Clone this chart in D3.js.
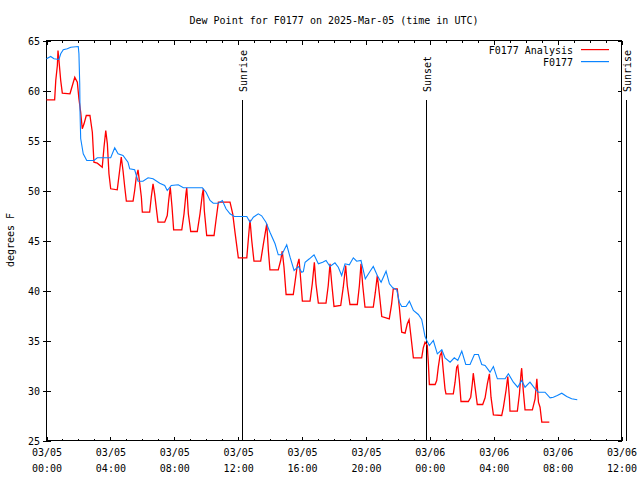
<!DOCTYPE html>
<html><head><meta charset="utf-8">
<script src="https://cdn.jsdelivr.net/npm/d3@7"></script>
<style>
body{margin:0;background:#fff}
text{font-family:"DejaVu Sans Mono",monospace;font-size:10px;fill:#000}
</style>
</head><body>
<svg id="c" width="640" height="480"></svg>
<script>
// ---- data (hours since 2025-03-05 00:00 UTC, dew point in F) ----
const obsHours=[0.00,0.26,0.47,0.78,0.89,1.05,1.30,1.52,1.99,2.03,2.08,2.10,2.14,2.30,2.52,2.97,3.18,4.02,4.27,4.48,4.79,5.10,5.21,5.52,5.73,6.04,6.36,6.67,7.09,7.40,7.56,7.81,8.25,8.57,9.76,9.99,10.24,10.44,10.76,11.01,11.24,11.49,11.76,12.54,12.74,12.95,13.26,13.47,13.74,13.99,14.31,14.51,14.73,15.04,15.25,15.50,15.77,15.98,16.08,16.19,16.46,16.75,17.02,17.29,17.50,17.75,18.06,18.27,18.48,18.69,18.96,19.21,19.42,19.69,19.96,20.26,20.46,20.71,20.95,21.26,21.47,21.68,21.93,22.09,22.24,22.51,22.72,22.97,23.28,23.49,23.70,23.81,23.97,24.22,24.47,24.75,24.95,25.27,25.53,25.75,26.00,26.25,26.52,26.79,27.04,27.25,27.46,27.77,27.98,28.23,28.71,28.92,29.23,29.50,29.75,29.96,30.27,30.59,30.79,31.21,31.53,31.73,31.98,32.26,32.57,32.88,33.23];
const obsDew=[63.17,63.4,63.17,63.1,63.67,64.07,64.17,64.33,64.4,63.67,60.67,57.8,55.2,53.67,53.0,53.0,53.27,53.27,54.27,53.67,53.5,52.83,52.17,52.07,50.93,50.93,51.27,51.17,50.73,50.5,50.0,50.5,50.57,50.27,50.27,49.83,49.0,48.73,48.73,49.0,48.17,47.67,47.4,47.4,46.83,47.33,47.67,47.47,46.83,45.83,44.67,43.57,43.57,44.57,43.33,42.0,42.4,41.83,41.9,42.83,43.17,43.57,42.67,42.83,43.0,42.4,42.77,42.33,41.5,42.67,42.57,43.27,42.93,43.0,41.17,41.93,42.4,41.5,40.83,41.93,40.67,40.27,40.07,38.83,38.4,38.4,38.93,38.0,37.6,37.1,35.4,35.0,34.5,35.0,33.67,34.07,33.27,32.83,33.27,33.0,33.93,32.6,32.6,33.6,33.6,32.6,32.5,31.83,32.4,31.17,31.17,31.67,30.83,30.33,31.0,30.33,30.83,30.17,29.83,29.83,29.27,29.33,29.5,29.73,29.4,29.17,29.07];
const anaHours=[0.00,0.51,0.58,0.68,0.72,0.78,0.89,0.99,1.47,1.62,1.77,1.93,2.03,2.14,2.24,2.35,2.49,2.72,2.87,2.97,3.18,3.49,3.60,3.71,3.81,3.91,4.02,4.43,4.58,4.68,4.79,4.90,5.00,5.42,5.52,5.62,5.73,5.84,5.94,6.00,6.46,6.56,6.67,6.77,6.88,6.98,7.40,7.56,7.65,7.75,7.86,7.96,8.47,8.61,8.73,8.78,8.88,9.03,9.44,9.61,9.76,9.82,9.88,10.03,10.49,10.61,10.76,11.49,11.66,11.80,12.01,12.54,12.64,12.74,12.85,12.99,13.41,13.58,13.79,13.89,13.99,14.51,14.66,14.76,14.87,15.00,15.45,15.56,15.70,15.81,15.92,16.02,16.50,16.64,16.77,16.87,17.02,17.50,17.64,17.75,17.86,18.00,18.42,18.58,18.73,18.83,19.00,19.46,19.59,19.69,19.80,19.94,20.46,20.59,20.71,20.84,20.99,21.46,21.61,21.71,21.96,22.09,22.24,22.45,22.59,22.70,22.80,22.97,23.49,23.59,23.70,23.84,23.91,23.97,24.33,24.43,24.53,24.64,24.74,24.84,24.95,25.01,25.47,25.58,25.68,25.75,25.85,25.95,26.41,26.56,26.66,26.72,26.83,26.97,27.31,27.46,27.60,27.73,27.83,27.98,28.50,28.60,28.77,28.88,28.98,29.02,29.48,29.61,29.71,29.75,29.85,29.96,30.42,30.59,30.70,30.80,30.90,31.01,31.48];
const anaDew=[59.07,59.07,61.0,62.5,64.0,63.0,61.0,59.73,59.67,60.5,61.33,60.83,59.17,57.83,56.17,56.67,57.5,57.5,55.83,52.83,52.73,52.33,54.33,56.0,54.67,51.67,50.17,50.07,52.0,53.33,52.0,50.33,48.93,48.93,50.0,51.33,52.07,50.67,49.33,47.83,47.83,49.33,50.67,49.67,48.17,46.83,46.83,47.5,49.0,50.33,48.33,46.07,46.07,47.67,49.67,50.27,47.67,45.9,45.9,47.67,49.67,50.17,48.0,45.5,45.5,47.0,48.83,48.83,47.67,45.83,43.27,43.27,45.17,47.07,45.0,42.93,42.93,44.67,46.67,44.0,42.07,42.07,43.0,43.93,42.33,39.6,39.6,40.83,42.5,43.17,41.0,38.93,38.93,40.67,42.83,40.67,38.73,38.73,40.5,42.67,40.67,38.4,38.5,40.33,42.5,40.5,38.6,38.6,40.5,42.67,40.5,38.33,38.33,39.83,41.5,39.67,37.4,37.17,38.67,40.17,40.17,38.33,35.83,35.73,36.67,37.07,35.67,33.27,33.27,34.27,34.83,34.5,32.67,30.6,30.6,31.0,32.33,33.5,33.83,32.0,30.17,29.67,29.67,30.83,32.33,32.5,31.0,28.9,28.9,29.33,30.67,31.73,30.33,28.6,28.6,29.27,30.67,31.67,29.33,27.57,27.5,28.27,30.0,31.4,29.33,27.93,27.93,29.67,31.73,32.23,30.0,28.07,28.07,29.17,31.17,28.83,28.33,26.83,26.83];
const markerHours=[12.29,23.82,36.3];
const markerLabels=["Sunrise","Sunset","Sunrise"];
const yTicks=[25,30,35,40,45,50,55,60,65];
const seriesNames=["F0177 Analysis","F0177"];
const seriesColors=["#ff0000","#0a84ff"];
const titleText="Dew Point for F0177 on 2025-Mar-05 (time in UTC)";
const yTitle="degrees F";

const t0=Date.UTC(2025,2,5);
const toDate=h=>new Date(t0+h*3600000);
const L=46.5,R=621.5,T=40.5,B=440.5;
const x=d3.scaleUtc().domain([toDate(0),toDate(36)]).range([L,R]);
const y=d3.scaleLinear().domain([25,65]).range([B,T]);
const svg=d3.select("#c");
const snap=v=>Math.floor(v)+0.5;

// title
svg.append("text").attr("x",(L+R)/2).attr("y",20).attr("text-anchor","middle")
  .attr("dominant-baseline","central").text(titleText);
// y title
svg.append("text").attr("transform","translate(10,240) rotate(-90)").attr("text-anchor","middle")
  .attr("dominant-baseline","central").text(yTitle);

const g=svg.append("g").attr("shape-rendering","crispEdges");

// minor x ticks (hourly) bottom & top
const hourly=d3.utcHour.every(1);
g.append("g").attr("transform",`translate(0,${B})`)
  .call(d3.axisBottom(x).ticks(hourly).tickSize(-2).tickSizeOuter(0).tickFormat(""))
  .call(a=>a.select(".domain").remove());
g.append("g").attr("transform",`translate(0,${T})`)
  .call(d3.axisTop(x).ticks(hourly).tickSize(-2).tickSizeOuter(0).tickFormat(""))
  .call(a=>a.select(".domain").remove());
// major x ticks every 4h
const four=d3.utcHour.every(4);
const bx=g.append("g").attr("transform",`translate(0,${B})`)
  .call(d3.axisBottom(x).ticks(four).tickSize(-4).tickSizeOuter(0).tickFormat(""))
  .call(a=>a.select(".domain").remove());
g.append("g").attr("transform",`translate(0,${T})`)
  .call(d3.axisTop(x).ticks(four).tickSize(-4).tickSizeOuter(0).tickFormat(""))
  .call(a=>a.select(".domain").remove());
bx.selectAll(".tick").each(function(d){
  const t=d3.select(this).select("text");
  t.attr("y",0).attr("dy",null).attr("fill","#000");
  t.append("tspan").attr("x",0).attr("y",12).attr("dominant-baseline","central").text(d3.utcFormat("%m/%d")(d));
  t.append("tspan").attr("x",0).attr("y",28).attr("dominant-baseline","central").text(d3.utcFormat("%H:%M")(d));
});

// y axes
const ly=g.append("g").attr("transform",`translate(${L},0)`)
  .call(d3.axisLeft(y).tickValues(yTicks).tickSize(-4).tickPadding(6.5).tickSizeOuter(0).tickFormat(d3.format("d")))
  .call(a=>a.select(".domain").remove());
ly.selectAll(".tick line").attr("x1",-4).attr("x2",4);
ly.selectAll(".tick text").attr("fill","#000").attr("dy",null).attr("dominant-baseline","central");
g.append("g").attr("transform",`translate(${R},0)`)
  .call(d3.axisRight(y).tickValues(yTicks).tickSize(-4).tickSizeOuter(0).tickFormat(""))
  .call(a=>a.select(".domain").remove());

// border
g.append("rect").attr("x",L).attr("y",T).attr("width",R-L).attr("height",B-T)
  .attr("fill","none").attr("stroke","#000");

// sunrise / sunset markers
markerHours.forEach((h,i)=>{
  const mx=snap(x(toDate(h)));
  g.append("line").attr("x1",mx).attr("x2",mx).attr("y1",100).attr("y2",B).attr("stroke","#000");
  svg.append("text").attr("transform",`translate(${mx+1},92) rotate(-90)`)
    .attr("text-anchor","start").attr("dominant-baseline","central").text(markerLabels[i]);
});

// series
const line=d3.line().x(d=>x(toDate(d[0]))).y(d=>y(d[1]));
const ana=anaHours.map((h,i)=>[h,anaDew[i]]);
const obs=obsHours.map((h,i)=>[h,obsDew[i]]);
svg.append("path").datum(ana).attr("d",line).attr("fill","none")
  .attr("stroke",seriesColors[0]).attr("stroke-width",1.3);
svg.append("path").datum(obs).attr("d",line).attr("fill","none")
  .attr("stroke",seriesColors[1]).attr("stroke-width",1.1);

// legend
seriesNames.forEach((n,i)=>{
  const ly0=50+12*i;
  svg.append("text").attr("x",573).attr("y",ly0).attr("text-anchor","end")
    .attr("dominant-baseline","central").text(n);
  svg.append("rect").attr("x",581).attr("y",ly0-1).attr("width",28).attr("height",1.2)
    .attr("fill",seriesColors[i]);
});
</script>
</body></html>
